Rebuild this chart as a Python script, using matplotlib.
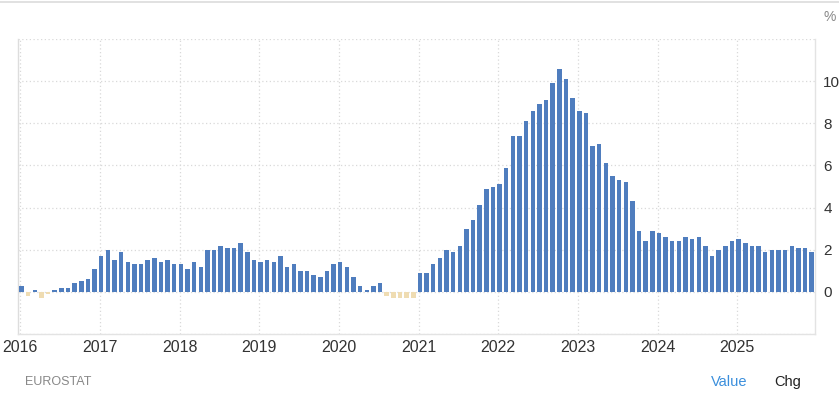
import numpy as np
import matplotlib
matplotlib.use("Agg")
import matplotlib.pyplot as plt
from matplotlib.lines import Line2D

plt.rcParams['font.family'] = ['Liberation Sans', 'DejaVu Sans']

# Euro area annual inflation rate, monthly (%)
y2016 = [0.3, -0.2, 0.1, -0.3, -0.1, 0.1, 0.2, 0.2, 0.4, 0.5, 0.6, 1.1]
y2017 = [1.7, 2.0, 1.5, 1.9, 1.4, 1.3, 1.3, 1.5, 1.6, 1.4, 1.5, 1.3]
y2018 = [1.3, 1.1, 1.4, 1.2, 2.0, 2.0, 2.2, 2.1, 2.1, 2.3, 1.9, 1.5]
y2019 = [1.4, 1.5, 1.4, 1.7, 1.2, 1.3, 1.0, 1.0, 0.8, 0.7, 1.0, 1.3]
y2020 = [1.4, 1.2, 0.7, 0.3, 0.1, 0.3, 0.4, -0.2, -0.3, -0.3, -0.3, -0.3]
y2021 = [0.9, 0.9, 1.3, 1.6, 2.0, 1.9, 2.2, 3.0, 3.4, 4.1, 4.9, 5.0]
y2022 = [5.1, 5.9, 7.4, 7.4, 8.1, 8.6, 8.9, 9.1, 9.9, 10.6, 10.1, 9.2]
y2023 = [8.6, 8.5, 6.9, 7.0, 6.1, 5.5, 5.3, 5.2, 4.3, 2.9, 2.4, 2.9]
y2024 = [2.8, 2.6, 2.4, 2.4, 2.6, 2.5, 2.6, 2.2, 1.7, 2.0, 2.2, 2.4]
y2025 = [2.5, 2.3, 2.2, 2.2, 1.9, 2.0, 2.0, 2.0, 2.2, 2.1, 2.1, 1.9]

years = ['2016', '2017', '2018', '2019', '2020', '2021', '2022', '2023', '2024', '2025']
y_ticks = [0, 2, 4, 6, 8, 10]

values = np.array(y2016 + y2017 + y2018 + y2019 + y2020 + y2021 + y2022
                  + y2023 + y2024 + y2025)
months = np.arange(len(values))

blue = '#4f7dbe'
beige = '#efdcb2'
colors = [blue if v >= 0 else beige for v in values]

W, H = 839, 396
fig = plt.figure(figsize=(W / 100, H / 100), dpi=100)
ax = fig.add_axes([18 / W, 1 - 334 / H, (815 - 18) / W, (334 - 39) / H])

ax.bar(months, values, width=0.68, color=colors, zorder=3)

ax.set_xlim(-0.53, 119.5)
ax.set_ylim(-2, 12)

# gridlines: dotted, light grey
year_pos = [12 * i - 0.2 for i in range(len(years))]
ax.set_xticks(year_pos)
ax.set_xticklabels(years, fontsize=11.5, color='#333333')
ax.set_yticks([-2] + y_ticks + [12])
ax.set_yticklabels([''] + [str(t) for t in y_ticks] + [''], fontsize=11, color='#333333')
ax.yaxis.tick_right()
ax.tick_params(axis='both', length=0)
ax.tick_params(axis='x', pad=4)
ax.tick_params(axis='y', pad=6)
ax.grid(True, color='#d9d9d9', linestyle=(0, (1, 2)), linewidth=0.9, zorder=0)

ax.spines['top'].set_visible(False)
ax.spines['left'].set_color('#dddddd')
ax.spines['right'].set_color('#e3e3e3')
ax.spines['bottom'].set_color('#e3e3e3')
for s in ['left', 'right', 'bottom']:
    ax.spines[s].set_linewidth(1.0)

# top separator line across the whole picture
fig.add_artist(Line2D([0, 1], [1 - 2 / H, 1 - 2 / H], color='#dcdcdc', linewidth=1.2))

fig.text(823 / W, 1 - 17 / H, '%', fontsize=10, color='#888888', va='center')
fig.text(25 / W, 1 - 382 / H, 'EUROSTAT', fontsize=9, color='#888888', va='center')
fig.text(711 / W, 1 - 382 / H, 'Value', fontsize=10.5, color='#3b8fdc', va='center')
fig.text(774 / W, 1 - 382 / H, 'Chg', fontsize=10.5, color='#222222', va='center')

fig.savefig('out.png', dpi=100)
